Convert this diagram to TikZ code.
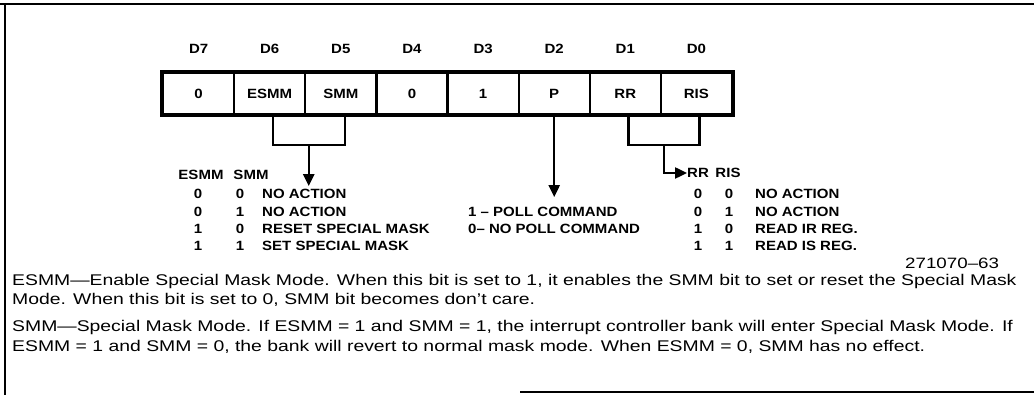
\documentclass[tikz,border=0pt]{standalone}
\usepackage{fontspec}
\setmainfont{Liberation Sans}
\newfontfamily\labfont[FakeStretch=1.12]{Liberation Sans}
\newfontfamily\parfont[FakeStretch=1.25]{Liberation Sans}
\usetikzlibrary{arrows.meta,calc}
\begin{document}
\begin{tikzpicture}[x=1pt,y=-1pt,
  lab/.style={font=\labfont\bfseries\fontsize{13.4}{17.2}\selectfont, inner sep=0pt},
  cell/.style={draw, line width=2.2pt, minimum width=71.125pt, minimum height=41pt, inner sep=0pt, font=\labfont\bfseries\fontsize{13.4}{15}\selectfont},
  para/.style={font=\parfont\fontsize{15.5}{20}\selectfont, inner sep=0pt, anchor=base west},
  conn/.style={line width=2.4pt},
  arr/.style={line width=2.4pt, -{Triangle[length=12pt,width=11pt]}},
  frame/.style={line width=1.6pt}]
\useasboundingbox (0,0) rectangle (1034,395);
% frame
\draw[frame] (0,4) -- (1034,4);
\draw[frame] (5,4) -- (5,395);
\draw[frame] (520,392) -- (1034,392);
% register cells
\node[cell] (c7) at (198.6,93.5) {0};
\node[cell] (c6) at (269.7,93.5) {ESMM};
\node[cell] (c5) at (340.8,93.5) {SMM};
\node[cell] (c4) at (412.0,93.5) {0};
\node[cell] (c3) at (483.1,93.5) {1};
\node[cell] (c2) at (554.2,93.5) {P};
\node[cell] (c1) at (625.3,93.5) {RR};
\node[cell] (c0) at (696.4,93.5) {RIS};
\draw[line width=3pt] (c7.north west) rectangle (c0.south east);
% bit labels
\node[lab] (d7) at (198.6,49) {D7};
\node[lab] (d6) at (269.7,49) {D6};
\node[lab] (d5) at (340.8,49) {D5};
\node[lab] (d4) at (412.0,49) {D4};
\node[lab] (d3) at (483.1,49) {D3};
\node[lab] (d2) at (554.2,49) {D2};
\node[lab] (d1) at (625.3,49) {D1};
\node[lab] (d0) at (696.4,49) {D0};
% ESMM/SMM bracket
\draw[conn] ($(c6.south)+(3,0)$) -- ++(0,30) -| ($(c5.south)+(4,0)$);
\coordinate (m65) at ($(c6.south)!0.5!(c5.south)+(3.5,30)$);
\draw[arr] (m65) -- ++(0,41);
% P arrow
\draw[arr] (c2.south) -- ++(0,82);
% RR/RIS bracket
\draw[conn] ($(c1.south)+(3,0)$) -- ++(0,30) -| ($(c0.south)+(3,0)$);
\coordinate (m10) at ($(c1.south)!0.5!(c0.south)+(3,30)$);
% ESMM table
\node[lab] (hesmm) at (201,175) {ESMM};
\node[lab] (hsmm) at (251,175) {SMM};
\node[lab, align=center, anchor=north] (tesmm) at (198,189.3) {0\\0\\1\\1};
\node[lab, align=center, anchor=north] (tsmm) at (240,189.3) {0\\1\\0\\1};
\node[lab, align=left, anchor=north west] (tdesc) at (262,189.3) {NO ACTION\\NO ACTION\\RESET SPECIAL MASK\\SET SPECIAL MASK};
% poll
\node[lab, align=left, anchor=north west] (tpoll) at (468,206.5) {1 – POLL COMMAND\\0– NO POLL COMMAND};
% RR table
\node[lab, anchor=west] (hrr) at (687,173) {RR};
\node[lab] (hris) at (728,173) {RIS};
\draw[arr] (m10) |- (hrr.west);
\node[lab, align=center, anchor=north] (trr) at (698,189.3) {0\\0\\1\\1};
\node[lab, align=center, anchor=north] (tris) at (729,189.3) {0\\1\\0\\1};
\node[lab, align=left, anchor=north west] (trdesc) at (755,189.3) {NO ACTION\\NO ACTION\\READ IR REG.\\READ IS REG.};
\node[font=\parfont\fontsize{15}{15}\selectfont, inner sep=0pt, anchor=base west] (fig) at (905,268.5) {271070–63};
% paragraphs
\node[para] (p1) at (12,286) {ESMM—Enable Special Mask Mode. When this bit is set to 1, it enables the SMM bit to set or reset the Special Mask};
\node[para] (p2) at (12,305) {Mode. When this bit is set to 0, SMM bit becomes don’t care.};
\node[para] (p3) at (12,332) {SMM—Special Mask Mode. If ESMM = 1 and SMM = 1, the interrupt controller bank will enter Special Mask Mode. If};
\node[para] (p4) at (12,352) {ESMM = 1 and SMM = 0, the bank will revert to normal mask mode. When ESMM = 0, SMM has no effect.};
\end{tikzpicture}
\end{document}
